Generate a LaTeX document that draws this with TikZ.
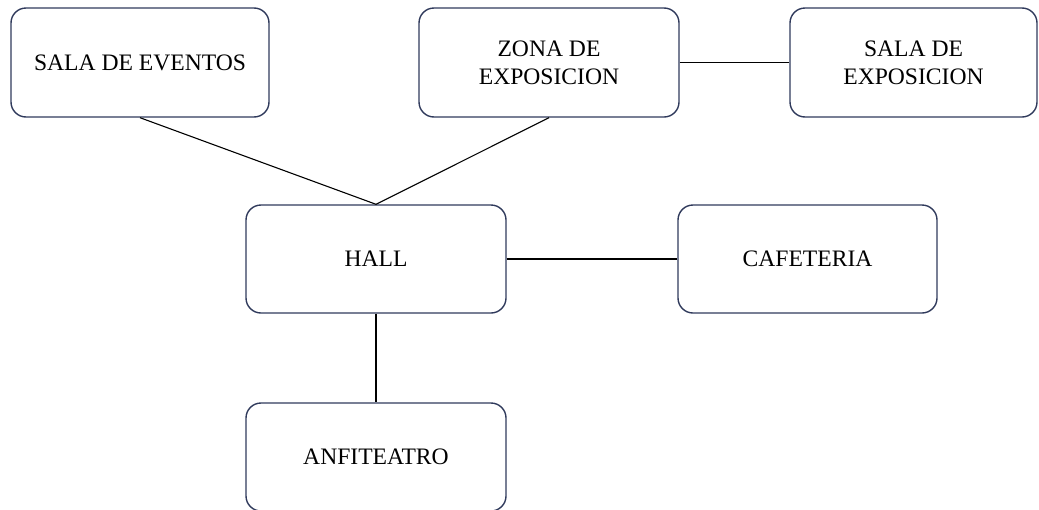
\documentclass[tikz,border=0pt]{standalone}
\usepackage{fontspec}
\setmainfont{Liberation Serif}
\usepackage{tikz}
\usepackage{xcolor}
\definecolor{borde}{RGB}{48,58,92}

\begin{document}
\begin{tikzpicture}[x=0.5pt,y=0.5pt,
  caja/.style={draw=borde, line width=0.7pt, rounded corners=7.5pt, align=center,
    minimum width=130pt, minimum height=54.5pt, inner sep=0pt,
    font=\fontsize{11.8}{14}\selectfont},
  enlace/.style={draw=black, line width=0.55pt}]
\useasboundingbox (0,0) rectangle (1039,-509);
\node[caja, minimum width=129pt] (eventos) at (140,-62.5) {SALA DE EVENTOS};
\node[caja] (zona) at (549,-62.5) {ZONA DE\\EXPOSICION};
\node[caja, minimum width=123.5pt] (salaexp) at (913.5,-62.5) {SALA DE\\EXPOSICION};
\node[caja, minimum height=54pt] (hall) at (376,-259) {HALL};
\node[caja, minimum width=129.5pt, minimum height=54pt] (cafe) at (807.5,-259) {CAFETERIA};
\node[caja, minimum height=54pt] (anfi) at (376,-457) {ANFITEATRO};
\draw[enlace] (eventos.south) -- (hall.north);
\draw[enlace] (zona.south) -- (hall.north);
\draw[enlace] (zona.east) -- (salaexp.west);
\draw[enlace] (hall.east) -- (cafe.west);
\draw[enlace] (hall.south) -- (anfi.north);
\end{tikzpicture}
\end{document}
